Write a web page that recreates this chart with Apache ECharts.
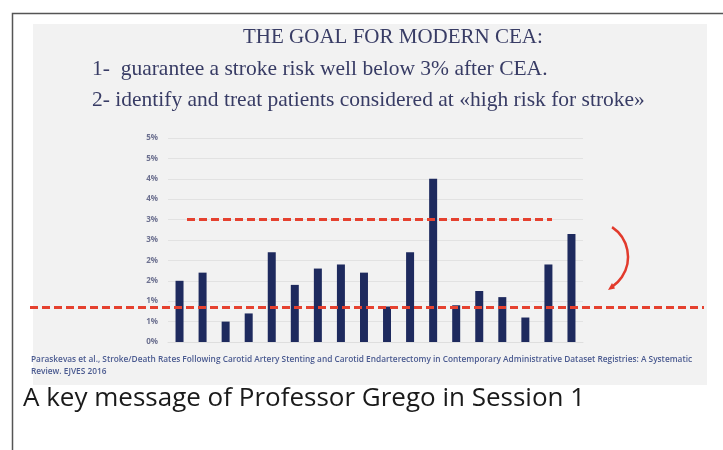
<!DOCTYPE html>
<html>
<head>
<meta charset="utf-8">
<style>
  html, body { margin: 0; padding: 0; background: #fff; }
  #chart-container { width: 723px; height: 450px; }
</style>
<script src="https://cdn.jsdelivr.net/npm/echarts@6/dist/echarts.min.js"></script>
</head>
<body>
<div id="chart-container"></div>
<script>
// registries, one bar each (stroke/death rate after CEA, %)
var registries = ["1", "2", "3", "4", "5", "6", "7", "8", "9", "10", "11", "12", "13", "14", "15", "16", "17", "18"];
var strokeRates = [1.5, 1.7, 0.5, 0.7, 2.2, 1.4, 1.8, 1.9, 1.7, 0.87, 2.2, 4.0, 0.9, 1.25, 1.1, 0.6, 1.9, 2.65];
var upperLimit = 3.0;   // 3% line
var lowerTarget = 0.85; // target line
var yTicks = { min: 0, max: 5, step: 0.5 };

var titleText = "THE GOAL FOR MODERN CEA:";
var goalLines = [
  "1-  guarantee a stroke risk well below 3% after CEA.",
  "2- identify and treat patients considered at \u00abhigh risk for stroke\u00bb"
];
var sourceLines = [
  "Paraskevas et al., Stroke/Death Rates Following Carotid Artery Stenting and Carotid Endarterectomy in Contemporary Administrative Dataset Registries: A Systematic",
  "Review. EJVES 2016"
];
var caption = "A key message of Professor Grego in Session 1";

var dom = document.getElementById("chart-container");
var myChart = echarts.init(dom, null, { renderer: "canvas" });

var navy = "#1e2a5e";
var red = "#e5412f";
var textNavy = "#383c65";
var dashStyle = { color: red, width: 3, type: [8, 4] };

var option = {
  backgroundColor: "#ffffff",
  animation: false,
  grid: { left: 168, right: 140, top: 138, bottom: 108 },
  xAxis: {
    type: "category",
    data: registries,
    axisLine: { show: true, lineStyle: { color: "#dedede" } },
    axisTick: { show: false },
    axisLabel: { show: false }
  },
  yAxis: {
    type: "value",
    min: yTicks.min,
    max: yTicks.max,
    interval: yTicks.step,
    axisLine: { show: false },
    axisTick: { show: false },
    splitLine: { lineStyle: { color: "#e2e2e2", width: 1 } },
    axisLabel: {
      margin: 10,
      color: "#6d7190",
      fontFamily: "Open Sans",
      fontWeight: "bold",
      fontSize: 8,
      formatter: function (v) { return Math.round(v) + "%"; }
    }
  },
  series: [{
    type: "bar",
    data: strokeRates,
    barWidth: 8,
    itemStyle: { color: navy },
    markLine: {
      silent: true,
      symbol: ["none", "none"],
      label: { show: false },
      lineStyle: dashStyle,
      data: [
        [{ coord: [0, upperLimit], x: 187 }, { coord: [17, upperLimit], x: 552 }],
        [{ coord: [0, lowerTarget], x: 30 }, { coord: [17, lowerTarget], x: 704 }]
      ]
    }
  }],
  graphic: [
    {
      type: "rect", z: -10, silent: true,
      shape: { x: 12.5, y: 13.5, width: 740, height: 460 },
      style: { fill: null, stroke: "#555", lineWidth: 1.5 }
    },
    {
      type: "rect", z: -9, silent: true,
      shape: { x: 33, y: 24, width: 674, height: 361 },
      style: { fill: "#f2f2f2" }
    },
    {
      type: "text", left: 243, top: 27, z: 10,
      style: { text: titleText, font: "21px 'Liberation Serif'", fill: textNavy }
    },
    {
      type: "text", left: 92, top: 58, z: 10,
      style: { text: goalLines[0], font: "21.5px 'Liberation Serif'", fill: textNavy }
    },
    {
      type: "text", left: 92, top: 89, z: 10,
      style: { text: goalLines[1], font: "21.5px 'Liberation Serif'", fill: textNavy }
    },
    {
      type: "text", left: 31, top: 354, z: 10,
      style: { text: sourceLines.join("\n"), font: "600 8.3px 'Open Sans'", fill: "#4a5a90", lineHeight: 12 }
    },
    {
      type: "text", left: 23, top: 386, z: 10,
      style: { text: caption, font: "26px 'Open Sans'", fill: "#1a1a1a" }
    },
    {
      type: "arc", z: 10, silent: true,
      shape: { cx: 592, cy: 257, r: 36, startAngle: -0.98, endAngle: 0.98, clockwise: true },
      style: { stroke: "#e23a2c", lineWidth: 2.5, fill: null }
    },
    {
      type: "polygon", z: 10, silent: true,
      shape: { points: [[608, 290], [615, 288.5], [612, 283]] },
      style: { fill: "#e23a2c" }
    }
  ]
};

myChart.setOption(option);
window.addEventListener("resize", myChart.resize);
</script>
</body>
</html>
